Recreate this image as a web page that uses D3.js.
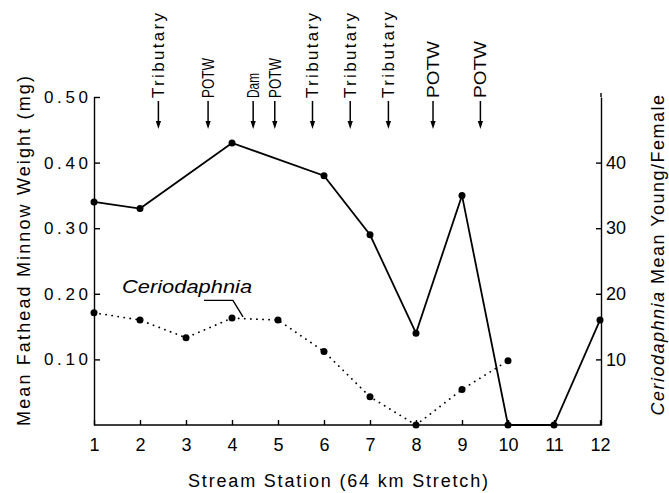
<!DOCTYPE html>
<html>
<head>
<meta charset="utf-8">
<script src="https://cdn.jsdelivr.net/npm/d3@7"></script>
<style>
  html, body { margin: 0; padding: 0; background: #fff; }
  svg { display: block; }
  text { font-family: "Liberation Sans", Arial, sans-serif; fill: #000; }
</style>
</head>
<body>
<div id="chart"></div>
<script>
// ---- data ----
const stationTicks = [1, 2, 3, 4, 5, 6, 7, 8, 9, 10, 11, 12];
const minnowStations = [1, 2, 4, 6, 7, 8, 9, 10, 11, 12];
const minnowWeight = [0.34, 0.33, 0.43, 0.38, 0.29, 0.14, 0.35, 0.0, 0.0, 0.16];
const cerioStations = [1, 2, 3, 4, 5, 6, 7, 8, 9, 10];
const cerioYoung = [17.1, 16.0, 13.3, 16.3, 16.0, 11.2, 4.3, 0.0, 5.4, 9.8];
const leftTicks = [0.1, 0.2, 0.3, 0.4, 0.5];
const rightTicks = [10, 20, 30, 40];
const inputLabels = ["Tributary", "POTW", "Dam", "POTW", "Tributary", "Tributary", "Tributary", "POTW", "POTW"];
const inputStations = [2.4, 3.48, 4.46, 4.93, 5.75, 6.57, 7.4, 8.37, 9.4];
const inputLabelLengths = [85, 40, 25, 40, 85, 85, 86, 57, 57];

// ---- layout ----
const W = 669, H = 493;
const mLeft = 94, mRight = 601, mTop = 97, mBottom = 425;

const svg = d3.select("#chart").append("svg").attr("width", W).attr("height", H);

const x = d3.scaleLinear().domain([1, 12]).range([mLeft, 600]);
const yL = d3.scaleLinear().domain([0, 0.5]).range([mBottom, mTop]);
const yR = d3.scaleLinear().domain([0, 50]).range([mBottom, mTop]);

function styleAxis(g) {
  g.attr("font-family", null).attr("font-size", null);
  g.selectAll("path, line").attr("stroke", "#000").attr("stroke-width", 1.4);
  g.selectAll("text").attr("fill", "#000");
}

// left axis
const gL = svg.append("g").attr("transform", `translate(${mLeft},0)`)
  .call(d3.axisLeft(yL).tickValues(leftTicks).tickFormat(d3.format(".2f"))
    .tickSize(-6).tickSizeOuter(0).tickPadding(6));
styleAxis(gL);
gL.selectAll("text").style("font-size", "17px")
  .attr("textLength", 44).attr("lengthAdjust", "spacing");

// right axis
const gR = svg.append("g").attr("transform", `translate(${mRight},0)`)
  .call(d3.axisRight(yR).tickValues(rightTicks).tickSize(-5).tickSizeOuter(0).tickPadding(5));
styleAxis(gR);
gR.selectAll("text").style("font-size", "18px");
gR.append("line").attr("x1", 0).attr("x2", 0).attr("y1", mTop - 4).attr("y2", mTop)
  .attr("stroke", "#000").attr("stroke-width", 1.4);

// bottom axis
const gB = svg.append("g").attr("transform", `translate(0,${mBottom})`)
  .call(d3.axisBottom(x).tickValues(stationTicks).tickFormat(d3.format("d"))
    .tickSize(-5).tickSizeOuter(0).tickPadding(13));
styleAxis(gB);
gB.select(".domain").attr("d", `M${mLeft},0H${mRight}`);
gB.selectAll("text").style("font-size", "18px");

// axis titles
svg.append("text")
  .attr("transform", `translate(24,${(75 + 427) / 2}) rotate(-90)`)
  .attr("text-anchor", "middle").attr("dy", "0.35em")
  .style("font-size", "18px")
  .attr("textLength", 350).attr("lengthAdjust", "spacing")
  .text("Mean Fathead Minnow Weight (mg)");

const rt = svg.append("text")
  .attr("transform", `translate(658,${(82 + 427) / 2}) rotate(-90)`)
  .attr("text-anchor", "middle").attr("dy", "0.35em")
  .style("font-size", "18px").style("letter-spacing", "1.5px");
rt.append("tspan").style("font-style", "italic").text("Ceriodaphnia");
rt.append("tspan").text(" Mean Young/Female");

svg.append("text")
  .attr("x", 338).attr("y", 487).attr("text-anchor", "middle")
  .style("font-size", "18px")
  .attr("textLength", 300).attr("lengthAdjust", "spacing")
  .text("Stream Station (64 km Stretch)");

// ---- Ceriodaphnia dotted series ----
const cerio = cerioStations.map((s, i) => ({ s, v: cerioYoung[i] }));
svg.append("path")
  .datum(cerio)
  .attr("fill", "none").attr("stroke", "#000").attr("stroke-width", 1.8)
  .attr("stroke-linecap", "round").attr("stroke-dasharray", "0.1,6")
  .attr("d", d3.line().x(d => x(d.s)).y(d => yR(d.v)));
svg.append("g").selectAll("circle").data(cerio).join("circle")
  .attr("cx", d => x(d.s)).attr("cy", d => yR(d.v)).attr("r", 3.5).attr("fill", "#000");

// ---- Minnow solid series ----
const minnow = minnowStations.map((s, i) => ({ s, v: minnowWeight[i] }));
svg.append("path")
  .datum(minnow)
  .attr("fill", "none").attr("stroke", "#000").attr("stroke-width", 1.8)
  .attr("d", d3.line().x(d => x(d.s)).y(d => yL(d.v)));
svg.append("g").selectAll("circle").data(minnow).join("circle")
  .attr("cx", d => x(d.s)).attr("cy", d => yL(d.v)).attr("r", 3.5).attr("fill", "#000");

// ---- Ceriodaphnia label with leader ----
svg.append("text")
  .attr("x", x(1.61)).attr("y", yR(20.1))
  .style("font-size", "18px").style("font-style", "italic")
  .attr("textLength", 130).attr("lengthAdjust", "spacingAndGlyphs")
  .text("Ceriodaphnia");
svg.append("path")
  .attr("fill", "none").attr("stroke", "#000").attr("stroke-width", 1.4)
  .attr("d", `M${x(3.39)},${yR(19.0)}H${x(4.02)}L${x(4.24)},${yR(16.5)}`);

// ---- input annotations ----
const ann = svg.append("g");
inputStations.forEach((s, i) => {
  const ax = x(s);
  const stretch = inputLabels[i] === "Tributary";
  ann.append("text")
    .attr("transform", `translate(${ax},98) rotate(-90)`)
    .attr("dy", "0.35em")
    .style("font-size", "17px")
    .attr("textLength", inputLabelLengths[i])
    .attr("lengthAdjust", stretch ? "spacing" : "spacingAndGlyphs")
    .text(inputLabels[i]);
  ann.append("line")
    .attr("x1", ax).attr("x2", ax).attr("y1", 101).attr("y2", 123)
    .attr("stroke", "#000").attr("stroke-width", 1.5);
  ann.append("path")
    .attr("d", `M${ax - 2.6},${121}L${ax + 2.6},${121}L${ax},${129}Z`)
    .attr("fill", "#000");
});
</script>
</body>
</html>
